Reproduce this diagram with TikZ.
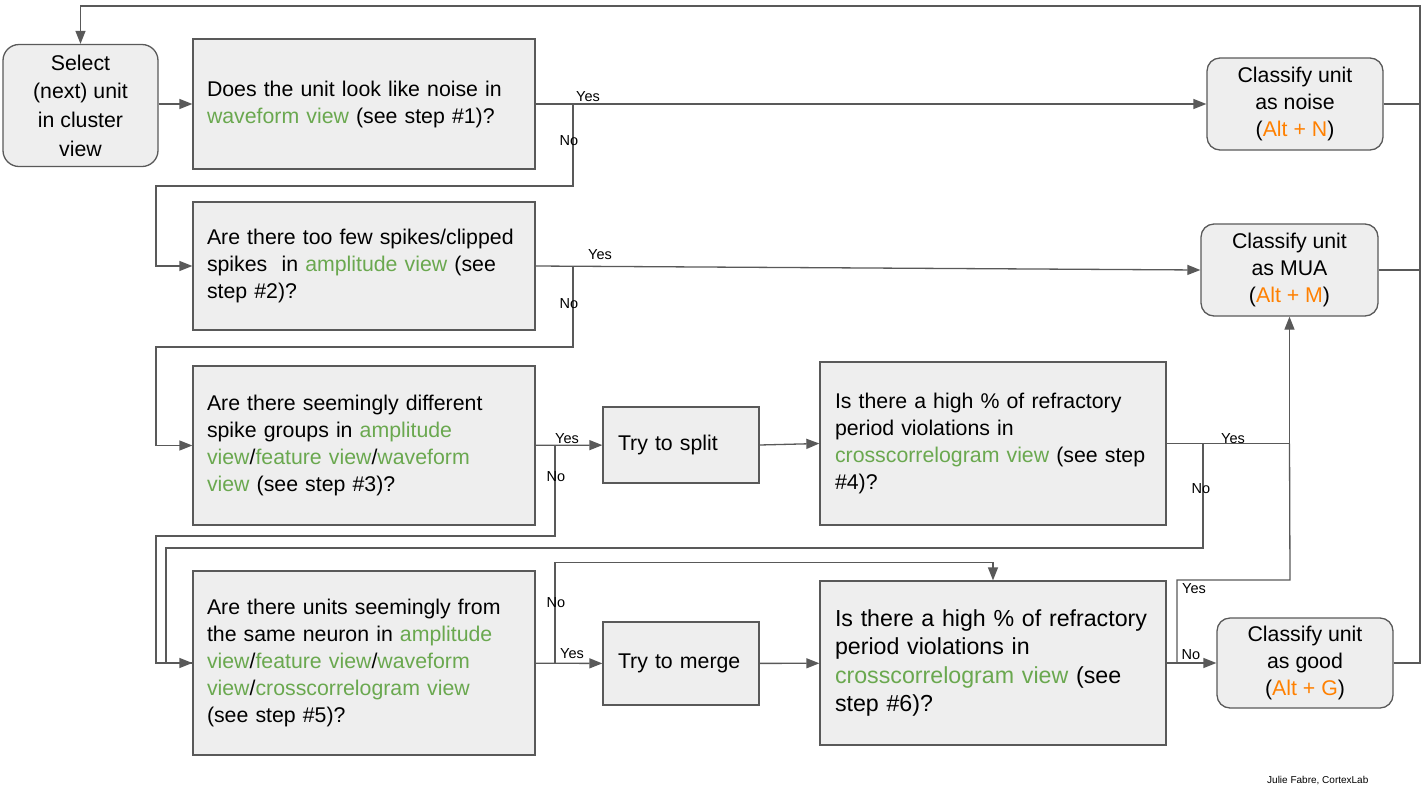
\documentclass[tikz,border=0pt]{standalone}
\usepackage{fontspec}
\setmainfont{Liberation Sans}
\usetikzlibrary{arrows.meta, calc}
\definecolor{viewgreen}{HTML}{6AA84F}
\definecolor{keyorange}{HTML}{FF8000}
\definecolor{boxgray}{HTML}{EEEEEE}
\definecolor{linegray}{HTML}{595959}
\newcommand{\gv}[1]{\textcolor{viewgreen}{#1}}
\newcommand{\key}[1]{\textcolor{keyorange}{#1}}
\begin{document}
\begin{tikzpicture}[x=1pt, y=-1pt,
  box/.style={draw=linegray, fill=boxgray, line width=1.3pt, font=\fontsize{21.3}{27}\selectfont},
  question/.style={box, align=left, inner xsep=14pt, text width=314pt, minimum height=130pt},
  trybox/.style={box, align=left, inner xsep=15pt, text width=126pt, minimum height=76pt},
  result/.style={box, align=center, rounded corners=13pt, minimum width=176pt, minimum height=92pt},
  lbl/.style={font=\fontsize{14.5}{16}\selectfont, inner sep=0pt},
  line/.style={draw=linegray, line width=1.3pt},
  arr/.style={line, -{Triangle[length=13pt, width=10pt]}}]
\useasboundingbox (0,0) rectangle (1425,796);

% start and result boxes
\node [result, minimum width=155pt, minimum height=122pt, rounded corners=16pt,
  font=\fontsize{21.3}{28.7}\selectfont] (sel) at (80.5,105.5)
  {Select\\(next) unit\\in cluster\\view};
\node [result] (noise) at (1295,104) {Classify unit\\as noise\\(\key{Alt + N})};
\node [result, minimum width=177pt] (mua) at (1289.5,270) {Classify unit\\as MUA\\(\key{Alt + M})};
\node [result, minimum height=90pt] (good) at (1305,663) {Classify unit\\as good\\(\key{Alt + G})};

% questions
\node [question] (q1) at (364,104)
  {Does the unit look like noise in\\\gv{waveform view} (see step \#1)?};
\node [question, minimum height=128pt] (q2) at (364,266)
  {Are there too few spikes/clipped\\spikes\ \ in \gv{amplitude view} (see\\step \#2)?};
\node [question, minimum height=159pt] (q3) at (364,445.5)
  {Are there seemingly different\\spike groups in \gv{amplitude}\\\gv{view}/\gv{feature view}/\gv{waveform}\\\gv{view} (see step \#3)?};
\node [question, minimum height=184pt] (q5) at (364,663)
  {Are there units seemingly from\\the same neuron in \gv{amplitude}\\\gv{view}/\gv{feature view}/\gv{waveform}\\\gv{view}/\gv{crosscorrelogram view}\\(see step \#5)?};
\node [question, inner xsep=15pt, text width=316pt, minimum height=163pt] (q4) at (993,443.5)
  {Is there a high \% of refractory\\period violations in\\\gv{crosscorrelogram view} (see step\\\#4)?};
\node [question, inner xsep=15pt, text width=316pt, minimum height=164pt,
  font=\fontsize{23.2}{28.5}\selectfont] (q6) at (993,663)
  {Is there a high \% of refractory\\period violations in\\\gv{crosscorrelogram view} (see\\step \#6)?};

% actions
\node [trybox] (split) at (681,445) {Try to split};
\node [trybox, minimum height=83pt] (merge) at (681,663.5) {Try to merge};

% branch points
\coordinate (b1) at (573,104);
\coordinate (b2) at (573,266);
\coordinate (b3) at (555,445.5);
\coordinate (b4) at (1203,443.5);
\coordinate (b5) at (555,663);
\coordinate (b6) at (1177,663);
\coordinate (j4) at (mua.south |- q4.east);
\coordinate (rt) at (1420,6);

% main flow
\draw [arr] (sel.east |- q1.west) -- (q1);
\draw [arr] (q1) -- (noise);
\draw [arr] (q2.east) -- (mua.west);
\draw [arr] (q3) -- (split);
\draw [arr] (split.east) -- (q4.west);
\draw [arr] (q4.east) -| (mua.south);
\draw [arr] (q5) -- (merge);
\draw [arr] (merge) -- (q6);
\draw [arr] (q6) -- (good);

% "No" branches
\draw [arr] (b1) |- (156,186) |- (q2.west);
\draw [arr] (b2) |- (156,347) |- (q3.west);
\draw [arr] (b3) |- (156,536) |- (q5.west);
\draw [line] (b4) |- (166,548) |- (q5.west);
\draw [arr] (b5) |- ($(q6.north)+(0,-18)$) -- (q6.north);
\draw [line] (b6) |- (1290,580) -- (j4);

% back to the start
\draw [line] (noise.east) -- (noise.east -| rt);
\draw [line] (mua.east) -- (mua.east -| rt);
\draw [arr] (good.east) -- (good.east -| rt) -- (rt) -| (sel.north);

% labels
\node [lbl] at (588,97) {Yes};
\node [lbl] at (569,141) {No};
\node [lbl] at (600,255) {Yes};
\node [lbl] at (569,304) {No};
\node [lbl] at (567,439) {Yes};
\node [lbl] at (556,477) {No};
\node [lbl] at (1233,439) {Yes};
\node [lbl] at (1201,489) {No};
\node [lbl] at (556,603) {No};
\node [lbl] at (572,654) {Yes};
\node [lbl] at (1191,655) {No};
\node [lbl] at (1194,589) {Yes};

\node [font=\fontsize{10}{12}\selectfont, anchor=west, inner sep=0pt] (credit) at (1267,781) {Julie Fabre, CortexLab};
\end{tikzpicture}
\end{document}
